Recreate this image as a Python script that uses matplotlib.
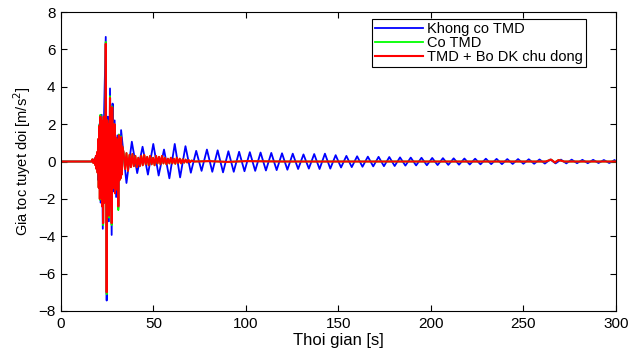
import matplotlib
matplotlib.use("Agg")
import matplotlib.pyplot as plt

plt.rcParams["font.family"] = ["Liberation Sans", "DejaVu Sans"]

# ---- Khong co TMD (blue): burst, then turning points of the slow decaying tail
blue_t = [0, 17.5, 18.5, 19.0, 19.6, 20.2, 20.8, 21.4, 22.0, 22.6, 23.3, 24.2, 24.7,
          25.3, 25.9, 26.5, 27.4, 27.9, 28.5, 29.0, 29.8, 30.5, 31.0, 31.5, 32.0,
          32.5, 35.4, 38.3, 41.2, 44.1, 47.0, 49.9, 52.8, 55.7, 58.6, 61.5, 64.4,
          67.3, 70.2, 73.1, 76.0, 78.9, 81.8, 84.7, 87.6, 90.5, 93.4, 96.3, 99.2,
          102.1, 105.0, 107.9, 110.8, 113.7, 116.6, 119.5, 122.4, 125.3, 128.2,
          131.1, 134.0, 136.9, 139.8, 142.7, 145.6, 148.5, 151.4, 154.3, 157.2,
          160.1, 163.0, 165.9, 168.8, 171.7, 174.6, 177.5, 180.4, 183.3, 186.2,
          189.1, 192.0, 194.9, 197.8, 200.7, 203.6, 206.5, 209.4, 212.3, 215.2,
          218.1, 221.0, 223.9, 226.8, 229.7, 232.6, 235.5, 238.4, 241.3, 244.2,
          247.1, 250.0, 252.9, 255.8, 258.7, 261.6, 264.5, 267.4, 270.3, 273.2,
          276.1, 279.0, 281.9, 284.8, 287.7, 290.6, 293.5, 296.4, 299.3, 300]
blue_v = [0, 0, 0.2, -0.3, 0.4, -1.0, 2.0, -2.2, 2.5, -3.6, 2.6, 6.67, -7.44,
          2.4, -3.2, 3.91, -3.93, 3.1, -1.6, 2.2, -1.9, 1.4, -2.5, 1.4, -0.8,
          1.68, -1.15, 1.06, -0.62, 0.79, -0.7, 0.94, -0.75, 0.64, -0.9, 0.94, -0.85,
          0.82, -0.6, 0.57, -0.5, 0.64, -0.55, 0.6, -0.58, 0.55, -0.55, 0.52, -0.52,
          0.5, -0.5, 0.48, -0.48, 0.46, -0.46, 0.44, -0.44, 0.42, -0.4,
          0.38, -0.38, 0.4, -0.4, 0.42, -0.38, 0.34, -0.32, 0.3, -0.3,
          0.28, -0.28, 0.26, -0.26, 0.25, -0.25, 0.24, -0.24, 0.22, -0.22,
          0.21, -0.21, 0.2, -0.2, 0.19, -0.19, 0.18, -0.18, 0.17, -0.17,
          0.16, -0.16, 0.15, -0.15, 0.15, -0.14, 0.14, -0.14, 0.13, -0.13,
          0.13, -0.12, 0.12, -0.12, 0.11, -0.11, 0.11, -0.1, 0.1, -0.1,
          0.1, -0.09, 0.09, -0.09, 0.09, -0.08, 0.08, -0.08, 0.08, 0]

# ---- shared sample times for the two TMD responses (dense burst, then noisy decay)
tmd_t = [0, 16.5, 17.0, 17.5, 18.0, 18.3, 18.6, 18.9, 19.2, 19.5, 19.8, 20.1, 20.4,
         20.7, 21.0, 21.3, 21.6, 21.9, 22.2, 22.5, 22.8, 23.1, 23.4, 23.7, 24.0,
         24.2, 24.7, 25.0, 25.3, 25.6, 25.9, 26.2, 26.5, 26.8, 27.1, 27.4, 27.7,
         28.0, 28.3, 28.6, 28.9, 29.2, 29.5, 29.8, 30.1, 30.4, 30.7, 31.0, 31.3,
         31.6, 31.9, 32.2, 32.5, 32.8, 33.1, 33.8, 34.6, 35.4, 36.2, 37.0, 37.8,
         38.6, 39.4, 40.2, 41.0, 41.8, 42.6, 43.4, 44.2, 45.0, 45.8, 46.6, 47.4,
         48.2, 49.0, 49.8, 50.6, 51.4, 52.2, 53.0, 53.8, 54.6, 55.4, 56.2, 57.0,
         57.8, 58.6, 59.4, 60.2, 61.0, 61.8, 62.6, 63.4, 64.2, 65.0, 65.8, 66.6,
         67.4, 68.2, 69.0, 69.8, 70.6, 72.0, 80.0, 90.0, 100.0, 120.0, 150.0,
         200.0, 250.0, 262.0, 265.0, 267.0, 269.0, 272.0, 300.0]

# ---- Co TMD (green): nearly identical to the red trace, a touch larger at a few tips
green_v = [0, 0, 0.12, -0.08, 0.0, 0.15, -0.2, 0.3, -0.4, 0.5, -0.6, 1.2, -1.4,
           1.95, -2.05, 2.5, -1.8, 2.2, -2.4, 1.6, -3.4, 2.4, -2.2, 1.8, -1.5,
           6.4, -7.1, 2.2, -2.5, 2.0, -3.0, -1.8, 3.5, -2.2, 2.0, -3.4, 2.95,
           -1.4, 1.6, -1.4, 2.0, -1.7, 1.3, -1.5, 1.2, -1.0, 1.0, -2.6, 1.45,
           -1.0, 1.0, -0.9, 1.35, -0.7, 0.8, 0.5, -0.4, 0.45, -0.5, 0.35, -0.3,
           0.4, -0.25, 0.3, -0.3, 0.2, -0.25, 0.3, -0.2, 0.35, -0.15, 0.25, -0.2,
           0.3, -0.15, 0.2, -0.2, 0.3, -0.1, 0.25, -0.15, 0.3, -0.1, 0.2, -0.15,
           0.15, -0.1, 0.2, -0.1, 0.15, -0.12, 0.2, -0.08, 0.15, -0.1, 0.12, -0.06,
           0.1, -0.05, 0.08, -0.04, 0.05, 0.0, 0.02, -0.02, 0.02, 0.0, 0.0,
           0.0, 0.0, 0.0, 0.1, -0.05, 0.08, 0.0, 0.0]

# ---- TMD + Bo DK chu dong (red)
red_v = [0, 0, 0.12, -0.08, 0.0, 0.15, -0.2, 0.3, -0.4, 0.5, -0.6, 1.2, -1.4,
         1.9, -2.0, 2.4, -1.8, 2.2, -2.4, 1.6, -3.3, 2.4, -2.2, 1.8, -1.5,
         6.3, -7.0, 2.2, -2.5, 2.0, -2.9, -1.8, 3.4, -2.2, 2.0, -3.3, 2.9,
         -1.4, 1.6, -1.4, 2.0, -1.7, 1.3, -1.5, 1.2, -1.0, 1.0, -2.4, 1.4,
         -1.0, 1.0, -0.9, 1.3, -0.7, 0.8, 0.5, -0.4, 0.45, -0.5, 0.35, -0.3,
         0.4, -0.25, 0.3, -0.3, 0.2, -0.25, 0.3, -0.2, 0.35, -0.15, 0.25, -0.2,
         0.3, -0.15, 0.2, -0.2, 0.3, -0.1, 0.25, -0.15, 0.3, -0.1, 0.2, -0.15,
         0.15, -0.1, 0.2, -0.1, 0.15, -0.12, 0.2, -0.08, 0.15, -0.1, 0.12, -0.06,
         0.1, -0.05, 0.08, -0.04, 0.05, 0.0, 0.02, -0.02, 0.02, 0.0, 0.0,
         0.0, 0.0, 0.0, 0.1, -0.05, 0.08, 0.0, 0.0]

labels = ["Khong co TMD", "Co TMD", "TMD + Bo DK chu dong"]
x_ticks = [0, 50, 100, 150, 200, 250, 300]
y_ticks = [-8, -6, -4, -2, 0, 2, 4, 6, 8]

fig = plt.figure(figsize=(6.32, 3.54), dpi=100)
ax = fig.add_axes([0.0965, 0.1215, 0.878, 0.8445])

ax.plot(blue_t, blue_v, color="#0000ff", lw=1.3, label=labels[0])
ax.plot(tmd_t, green_v, color="#00ff00", lw=1.3, label=labels[1])
ax.plot(tmd_t, red_v, color="#ff0000", lw=1.5, label=labels[2])

ax.set_xlim(0, 300)
ax.set_ylim(-8, 8)
ax.set_xticks(x_ticks)
ax.set_yticks(y_ticks)
ax.tick_params(direction="in", top=True, right=True, length=4.5, labelsize=11,
               width=0.8, pad=4)
for s in ax.spines.values():
    s.set_linewidth(0.8)

ax.set_xlabel("Thoi gian [s]", fontsize=12, labelpad=2)
ax.set_ylabel("Gia toc tuyet doi [m/s$^2$]", fontsize=10.5, labelpad=4)

leg = ax.legend(loc="upper right", bbox_to_anchor=(0.946, 0.977),
                borderaxespad=0, fontsize=10.5, handlelength=3.3,
                labelspacing=0.0, borderpad=0.2, handletextpad=0.3,
                fancybox=False, framealpha=1, edgecolor="black")
leg.get_frame().set_linewidth(0.8)

fig.savefig("out.png", dpi=100, facecolor="white")
